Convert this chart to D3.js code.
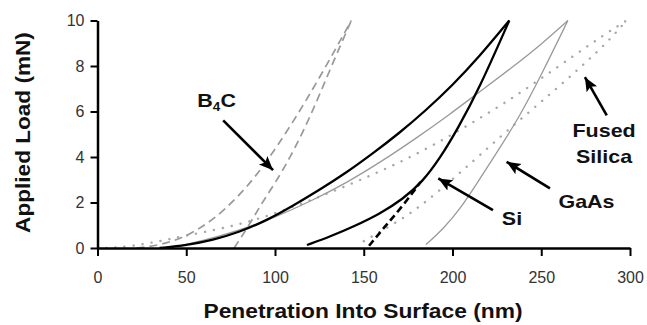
<!DOCTYPE html>
<html><head><meta charset="utf-8">
<script src="https://cdn.jsdelivr.net/npm/d3@7"></script>
<style>html,body{margin:0;padding:0;background:#fff;}svg{display:block;}</style>
</head><body><svg id="c" width="647" height="325"></svg>
<script>
// ---- data ----
const xTicks = [0, 50, 100, 150, 200, 250, 300];
const yTicks = [0, 2, 4, 6, 8, 10];

const b4cLoadX = [22, 35, 47, 56, 66, 78, 92, 110, 126, 143];
const b4cLoadY = [0, 0.12, 0.42, 0.78, 1.3, 2.15, 3.4, 5.5, 7.6, 10];
const b4cUnloadX = [77, 85, 92, 100, 108, 119, 131, 143];
const b4cUnloadY = [0, 0.95, 1.9, 2.85, 3.9, 5.6, 7.85, 10];

const siLoadX = [35, 50, 65, 80, 95, 110, 125, 140, 155, 170, 185, 200, 215, 232];
const siLoadY = [0, 0.12, 0.35, 0.7, 1.2, 1.85, 2.55, 3.3, 4.15, 5.05, 6.05, 7.15, 8.4, 10];
const siUnloadX = [118, 131, 145, 159, 172, 183, 193, 203, 215, 232];
const siUnloadY = [0.13, 0.5, 0.97, 1.5, 2.15, 2.9, 3.95, 5.25, 7.0, 10];
const siDashX = [153, 162, 172, 182];
const siDashY = [0.1, 0.95, 1.85, 2.9];

const gaasLoadX = [40, 60, 80, 100, 120, 140, 160, 180, 198, 215, 233, 250, 265];
const gaasLoadY = [0, 0.33, 0.78, 1.35, 2.05, 2.85, 3.8, 4.85, 5.85, 6.85, 7.9, 8.95, 10];
const gaasUnloadX = [185, 195, 205, 213, 225, 238, 250, 265];
const gaasUnloadY = [0.15, 0.85, 1.8, 2.75, 4.2, 5.8, 7.6, 10];

const fsLoadX = [5, 20, 35, 50, 70, 90, 110, 130, 150, 170, 190, 210, 230, 250, 270, 285, 298];
const fsLoadY = [0, 0.08, 0.3, 0.55, 0.85, 1.25, 1.8, 2.4, 3.05, 3.75, 4.55, 5.45, 6.4, 7.45, 8.55, 9.35, 10];
const fsUnloadX = [150, 160, 172, 182, 193, 204, 215, 230, 245, 260, 275, 288, 298];
const fsUnloadY = [0.3, 0.75, 1.3, 1.85, 2.55, 3.3, 4.05, 5.1, 6.1, 7.1, 8.15, 9.1, 10];

// annotation arrows [x1,y1,x2(tip),y2(tip)] in data units
const arrowB4C = [70.8, 5.61, 98.9, 3.42];
const arrowSi = [222.8, 1.67, 192, 3.06];
const arrowGaAs = [254.9, 2.62, 230.5, 3.79];
const arrowFS = [286.9, 5.83, 274.6, 7.51];
const labelNames = ["Si", "GaAs", "Fused", "Silica"];
const labelPos = [[233.5, 1.0], [275.5, 1.74], [285.4, 4.88], [285.4, 3.73]];
const b4cLabelPos = [67.1, 6.18];

const xTitle = "Penetration Into Surface (nm)";
const yTitle = "Applied Load (mN)";

// ---- drawing ----
const svg = d3.select("#c");
const x = d3.scaleLinear().domain([0, 300]).range([97.5, 630]);
const y = d3.scaleLinear().domain([0, 10]).range([248, 20.5]);
const FONT = "'Liberation Sans', Arial, sans-serif";

const zip = (xs, ys) => xs.map((v, i) => [v, ys[i]]);
const line = d3.line().x(d => x(d[0])).y(d => y(d[1])).curve(d3.curveBasis);

function curve(xs, ys, color, width, dash, cap) {
  svg.append("path").datum(zip(xs, ys)).attr("d", line)
    .attr("fill", "none").attr("stroke", color).attr("stroke-width", width)
    .attr("stroke-dasharray", dash || null)
    .attr("stroke-linecap", cap || "butt").attr("stroke-linejoin", "round");
}

// Fused silica (dotted)
curve(fsLoadX, fsLoadY, "#a8a8a8", 2.4, "0.1,9", "round");
curve(fsUnloadX, fsUnloadY, "#a8a8a8", 2.4, "0.1,9", "round");
// B4C (dashed)
curve(b4cLoadX, b4cLoadY, "#999", 1.7, "8,5");
curve(b4cUnloadX, b4cUnloadY, "#999", 1.7, "8,5");
// GaAs (thin gray)
curve(gaasLoadX, gaasLoadY, "#9a9a9a", 1.3);
curve(gaasUnloadX, gaasUnloadY, "#9a9a9a", 1.3);
// Si (black)
curve(siLoadX, siLoadY, "#000", 2.3);
curve(siUnloadX, siUnloadY, "#000", 2.3);
curve(siDashX, siDashY, "#000", 2.6, "7,4");

// axes
const gx = svg.append("g").attr("transform", `translate(0,${y(0)})`)
  .call(d3.axisBottom(x).tickValues(xTicks).tickSize(8).tickSizeOuter(0).tickPadding(16));
const gy = svg.append("g").attr("transform", `translate(${x(0)},0)`)
  .call(d3.axisLeft(y).tickValues(yTicks).tickSize(7).tickSizeOuter(0).tickPadding(6));
[gx, gy].forEach(g => {
  g.select(".domain").attr("stroke", "#000").attr("stroke-width", 2.5);
  g.selectAll(".tick line").attr("stroke", "#000").attr("stroke-width", 2);
  g.selectAll(".tick text").attr("font-family", FONT).attr("font-size", 16).attr("fill", "#333");
});

// titles
svg.append("text").attr("transform", "translate(363,318) scale(1.14,1)")
  .attr("text-anchor", "middle").attr("font-family", FONT).attr("font-weight", "bold")
  .attr("font-size", 20).attr("fill", "#111").text(xTitle);
svg.append("text").attr("transform", "translate(30,132.5) rotate(-90) scale(1.13,1)")
  .attr("text-anchor", "middle").attr("font-family", FONT).attr("font-weight", "bold")
  .attr("font-size", 20).attr("fill", "#111").text(yTitle);

// arrows
svg.append("defs").append("marker").attr("id", "ah")
  .attr("markerUnits", "userSpaceOnUse").attr("markerWidth", 16).attr("markerHeight", 14)
  .attr("refX", 14).attr("refY", 6).attr("orient", "auto")
  .append("path").attr("d", "M0,0 L14,6 L0,12 L3,6 Z").attr("fill", "#000");
[arrowB4C, arrowSi, arrowGaAs, arrowFS].forEach(a => {
  svg.append("line").attr("x1", x(a[0])).attr("y1", y(a[1])).attr("x2", x(a[2])).attr("y2", y(a[3]))
    .attr("stroke", "#000").attr("stroke-width", 2.6).attr("marker-end", "url(#ah)");
});

// labels
labelNames.forEach((t, i) => {
  svg.append("text").attr("transform", `translate(${x(labelPos[i][0])},${y(labelPos[i][1])}) scale(1.13,1)`)
    .attr("text-anchor", "middle").attr("font-family", FONT).attr("font-weight", "bold")
    .attr("font-size", 19).attr("fill", "#111").text(t);
});
const bt = svg.append("text").attr("transform", `translate(${x(b4cLabelPos[0])},${y(b4cLabelPos[1])}) scale(1.13,1)`)
  .attr("text-anchor", "middle").attr("font-family", FONT).attr("font-weight", "bold")
  .attr("font-size", 19).attr("fill", "#111");
bt.append("tspan").text("B");
bt.append("tspan").attr("font-size", 12).attr("dy", 4).text("4");
bt.append("tspan").attr("dy", -4).text("C");
</script></body></html>
